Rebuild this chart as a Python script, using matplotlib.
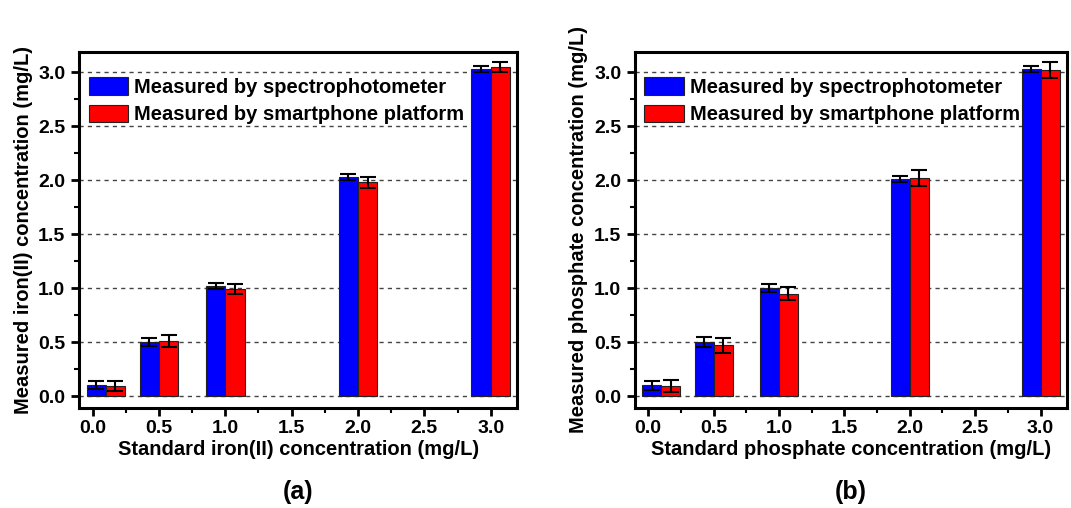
import matplotlib
matplotlib.use("Agg")
import matplotlib.pyplot as plt
from matplotlib.ticker import MultipleLocator

plt.rcParams["font.family"] = ["Liberation Sans", "DejaVu Sans"]
plt.rcParams["font.weight"] = "bold"

# concentraciones estandar (posiciones de las barras)
standard = [0.1, 0.5, 1.0, 2.0, 3.0]

# (a) hierro(II)
iron_spectro = [0.10, 0.50, 1.02, 2.03, 3.03]
iron_spectro_err = [0.035, 0.035, 0.03, 0.025, 0.03]
iron_phone = [0.09, 0.51, 0.99, 1.98, 3.05]
iron_phone_err = [0.045, 0.055, 0.045, 0.05, 0.045]

# (b) fosfato
phos_spectro = [0.10, 0.50, 1.00, 2.01, 3.03]
phos_spectro_err = [0.04, 0.045, 0.04, 0.03, 0.03]
phos_phone = [0.09, 0.47, 0.95, 2.02, 3.02]
phos_phone_err = [0.055, 0.07, 0.06, 0.075, 0.075]

xticks = [0.0, 0.5, 1.0, 1.5, 2.0, 2.5, 3.0]
labels_series = ["Measured by spectrophotometer", "Measured by smartphone platform"]

panels = [
    ("Standard iron(II) concentration (mg/L)", "Measured iron(II) concentration (mg/L)",
     "(a)", iron_spectro, iron_spectro_err, iron_phone, iron_phone_err),
    ("Standard phosphate concentration (mg/L)", "Measured phosphate concentration (mg/L)",
     "(b)", phos_spectro, phos_spectro_err, phos_phone, phos_phone_err),
]

fig = plt.figure(figsize=(10.71, 5.08), dpi=100)
axes_pos = [[0.074, 0.197, 0.409, 0.701], [0.593, 0.197, 0.403, 0.701]]

w = 0.145
for pos, (xlab, ylab, tag, s, se, p, pe) in zip(axes_pos, panels):
    ax = fig.add_axes(pos)
    ax.set_axisbelow(True)
    ax.yaxis.grid(True, linestyle=(0, (3, 3)), color="#444444", linewidth=1.0)
    xs = [x - w / 2 for x in standard]
    xp = [x + w / 2 for x in standard]
    ax.bar(xs, s, width=w, color="#0000ff", edgecolor="#222222", linewidth=0.8,
           label=labels_series[0])
    ax.bar(xp, p, width=w, color="#ff0000", edgecolor="#222222", linewidth=0.8,
           label=labels_series[1])
    ax.errorbar(xs, s, yerr=se, fmt="none", ecolor="black", elinewidth=1.5,
                capsize=5.5, capthick=1.5)
    ax.errorbar(xp, p, yerr=pe, fmt="none", ecolor="black", elinewidth=1.5,
                capsize=5.5, capthick=1.5)

    ax.set_xlim(-0.1, 3.2)
    ax.set_ylim(-0.11, 3.19)
    ax.set_xticks(xticks)
    ax.set_xticklabels([f"{t:.1f}" for t in xticks])
    ax.yaxis.set_major_locator(MultipleLocator(0.5))
    ax.yaxis.set_major_formatter(plt.FormatStrFormatter("%.1f"))
    ax.xaxis.set_minor_locator(MultipleLocator(0.25))
    ax.yaxis.set_minor_locator(MultipleLocator(0.25))
    ax.tick_params(which="major", direction="out", length=6, width=2,
                   labelsize=14, pad=4)
    ax.tick_params(axis="x", which="major", pad=2.5)
    ax.tick_params(which="minor", direction="out", length=3.5, width=1.5)
    for sp in ax.spines.values():
        sp.set_linewidth(2.2)

    ax.set_xlabel(xlab, fontsize=14.5, fontweight="bold", labelpad=2)
    ax.set_ylabel(ylab, fontsize=14.5, fontweight="bold", labelpad=4)
    ax.text(0.5, -0.236, tag, transform=ax.transAxes, ha="center", va="center",
            fontsize=18, fontweight="bold")

    ax.legend(loc="upper left", bbox_to_anchor=(0.012, 0.94), frameon=False,
              fontsize=14.5, handlelength=1.95, handleheight=0.95,
              handletextpad=0.3, labelspacing=0.4, borderaxespad=0,
              borderpad=0.2)

fig.savefig("out.png", dpi=100)
